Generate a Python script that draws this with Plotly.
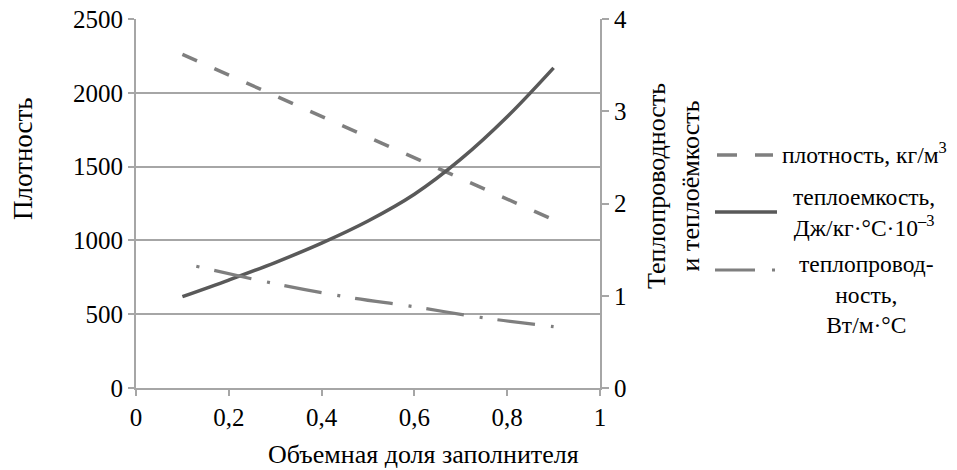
import plotly.graph_objects as go

# ---- data ----
x_tick_vals = [0, 0.2, 0.4, 0.6, 0.8, 1.0]
x_tick_text = ["0", "0,2", "0,4", "0,6", "0,8", "1"]

x_density = [0.1, 0.3, 0.5, 0.7, 0.9]
density = [2260, 1980, 1700, 1420, 1140]          # left axis, kg/m3

x_heatcap = [0.1, 0.2, 0.3, 0.4, 0.5, 0.6, 0.7, 0.8, 0.9]
heatcap = [0.99, 1.17, 1.36, 1.57, 1.81, 2.10, 2.48, 2.94, 3.47]  # right axis

x_cond = [0.13, 0.3, 0.45, 0.6, 0.75, 0.9]
conductivity = [1.32, 1.13, 0.99, 0.88, 0.76, 0.665]  # right axis

FONT = "Liberation Serif, Times New Roman, serif"
AX = "#a6a6a6"

# page offset (body margin) and plot area in page pixels
OFF = 8
L, R, T, B = 136, 600, 19, 388
W, H = 957 - OFF, 470 - OFF


def px(xp):
    return (xp - L) / (R - L)


def py(yp):
    return (B - yp) / (B - T)


fig = go.Figure()
fig.add_trace(go.Scatter(x=x_density, y=density, mode="lines", yaxis="y",
                         line=dict(color="#7f7f7f", width=3.5, dash="16px,19px"),
                         showlegend=False))
fig.add_trace(go.Scatter(x=x_heatcap, y=heatcap, mode="lines", yaxis="y2",
                         line=dict(color="#595959", width=3.5, shape="spline"),
                         showlegend=False))
fig.add_trace(go.Scatter(x=x_cond, y=conductivity, mode="lines", yaxis="y2",
                         line=dict(color="#7f7f7f", width=3.2, shape="spline",
                                   dash="3px,15px,38px,16px"),
                         showlegend=False))

shapes = [
    dict(type="line", xref="paper", yref="paper", x0=px(717), x1=px(773), y0=py(155), y1=py(155),
         line=dict(color="#7f7f7f", width=3.5, dash="20px,18px")),
    dict(type="line", xref="paper", yref="paper", x0=px(715), x1=px(777), y0=py(212), y1=py(212),
         line=dict(color="#595959", width=3.5)),
    dict(type="line", xref="paper", yref="paper", x0=px(715), x1=px(778), y0=py(270), y1=py(270),
         line=dict(color="#7f7f7f", width=3.2, dash="40px,17px,3px,20px")),
]

ann = [
    dict(text="Плотность", x=px(23), y=py(159), textangle=-90, font=dict(size=27)),
    dict(text="Теплопроводность<br>и теплоёмкость", x=px(673), y=py(186), textangle=-90,
         font=dict(size=26)),
    dict(text="Объемная доля заполнителя", x=px(423), y=py(454), font=dict(size=26)),
    dict(text="плотность, кг/м<sup>3</sup>", x=px(864), y=py(153), font=dict(size=23.5)),
    dict(text="теплоемкость,<br>Дж/кг·°С·10<sup>–3</sup>", x=px(864), y=py(212), font=dict(size=23.5)),
    dict(text="теплопровод-<br>ность,<br>Вт/м·°С", x=px(866), y=py(294), font=dict(size=23.5)),
]
for a in ann:
    a.update(xref="paper", yref="paper", showarrow=False, xanchor="center", yanchor="middle",
             align="center")
    a["font"].update(family=FONT, color="#000000")

tick_common = dict(showline=True, linecolor=AX, linewidth=2, ticks="outside", tickcolor=AX,
                   tickwidth=1.5, automargin=False, zeroline=False,
                   ticklabeloverflow="allow", tickfont=dict(family=FONT, size=25, color="#000000"))

fig.update_layout(
    width=W, height=H,
    margin=dict(l=L - OFF, r=957 - R, t=T - OFF, b=470 - B, pad=0, autoexpand=False),
    paper_bgcolor="white", plot_bgcolor="white",
    font=dict(family=FONT, size=25, color="#000000"),
    shapes=shapes, annotations=ann,
    xaxis=dict(range=[0, 1], tickvals=x_tick_vals, ticktext=x_tick_text, showgrid=False,
               ticklen=6, **tick_common),
    yaxis=dict(range=[0, 2500], dtick=500, showgrid=True, gridcolor=AX, gridwidth=1.5,
               ticklen=6, **tick_common),
    yaxis2=dict(range=[0, 4], dtick=1, overlaying="y", side="right", anchor="x",
                showgrid=False, ticklen=7, **tick_common),
)

fig.write_html("out.html")
